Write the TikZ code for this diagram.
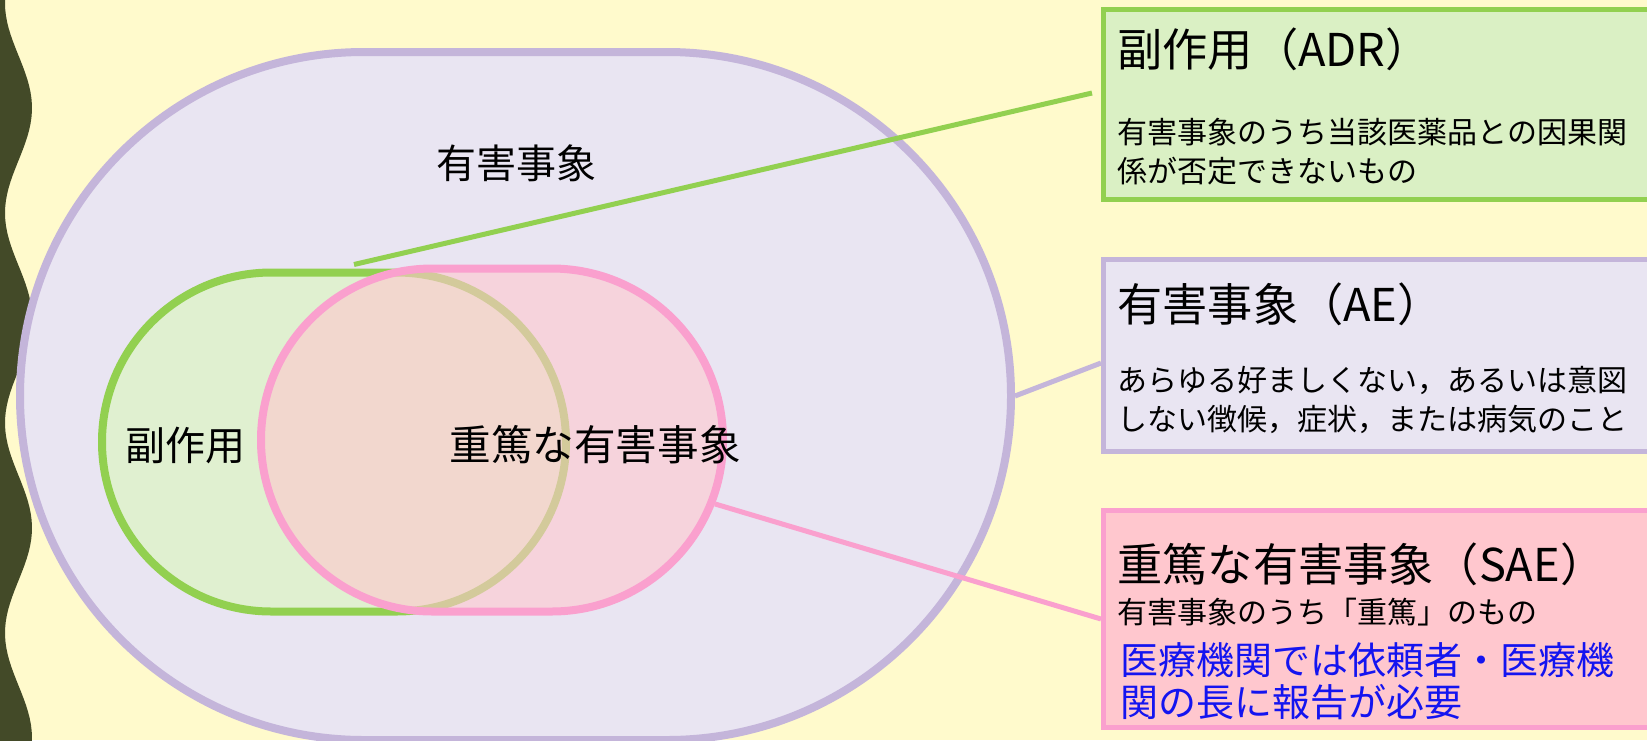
\documentclass[tikz,border=0pt]{standalone}
\usepackage{fontspec}
\setmainfont{Noto Sans CJK JP}
\usetikzlibrary{shapes.misc}
\definecolor{bgcol}{RGB}{255,250,204}
\definecolor{wavecol}{RGB}{67,74,40}
\definecolor{aecol}{RGB}{196,181,218}
\definecolor{aefillcol}{RGB}{233,229,242}
\definecolor{adrcol}{RGB}{146,208,80}
\definecolor{adrfillcol}{RGB}{224,240,208}
\definecolor{adrboxcol}{RGB}{218,240,196}
\definecolor{saecol}{RGB}{250,160,206}
\definecolor{saefillcol}{RGB}{255,199,206}
\definecolor{notecol}{RGB}{20,20,240}
\tikzset{
  region/.style={rounded rectangle, inner sep=0pt, line width=4pt},
  infobox/.style={rectangle, anchor=north west, inner sep=0pt, line width=2.5pt, minimum width=320pt},
  lead/.style={line width=2.5pt},
  biglabel/.style={inner sep=0pt, font=\fontsize{20pt}{24pt}\selectfont},
  title/.style={anchor=west, inner sep=0pt, font=\fontsize{22.6pt}{27pt}\selectfont},
  desc/.style={anchor=west, inner sep=0pt, align=left, font=\fontsize{15pt}{19.5pt}\selectfont},
}
\begin{document}
\begin{tikzpicture}[x=0.5pt,y=-0.5pt]
  \useasboundingbox (0,0) rectangle (1647,740);
  \clip (0,0) rectangle (1647,740);
  \fill[bgcol] (0,0) rectangle (1647,740);
  % wavy edge
  \fill[wavecol] (0,-10) -- plot[domain=-10:750,samples=120] ({18.5-13.5*cos(1.7143*(\x-3))},\x) -- (0,750) -- cycle;

  % sets
  \node[region, draw=aecol, fill=aefillcol, minimum width=495.5pt, minimum height=344pt] (ae) at (515.5,396) {};
  \node[region, draw=adrcol, fill=adrfillcol, minimum width=232pt, minimum height=169.5pt] (sidefx) at (334,442) {};
  \node[region, draw=saecol, fill=saefillcol, fill opacity=0.6, minimum width=231pt, minimum height=171.5pt] (serious) at (492,440) {};
  \node[biglabel] (aelabel) at (516,163) {有害事象};
  \node[biglabel] (sidefxlabel) at (185,445) {副作用};
  \node[biglabel, font=\fontsize{20.8pt}{24pt}\selectfont] (seriouslabel) at (595,445) {重篤な有害事象};

  % boxes
  \node[infobox, draw=adrcol, fill=adrboxcol, minimum height=95pt] (adrbox) at (1101,7) {};
  \node[infobox, draw=aecol, fill=aefillcol, minimum height=96pt] (aebox) at (1101,257) {};
  \node[infobox, draw=saecol, fill=saefillcol, minimum height=108.5pt] (saebox) at (1101,508) {};

  \node[title] (adrtitle) at (1117,49) {副作用（ADR）};
  \node[desc] (adrdesc) at (1117,151.5) {有害事象のうち当該医薬品との因果関\\係が否定できないもの};
  \node[title] (aetitle) at (1117,304) {有害事象（AE）};
  \node[desc] (aedesc) at (1117,400) {あらゆる好ましくない，あるいは意図\\しない徴候，症状，または病気のこと};
  \node[title] (saetitle) at (1117,564) {重篤な有害事象（SAE）};
  \node[desc] (saedesc) at (1117,612) {有害事象のうち「重篤」のもの};
  \node[desc, text=notecol, font=\fontsize{19pt}{21pt}\selectfont] (saenote) at (1120,681) {医療機関では依頼者・医療機\\関の長に報告が必要};

  % leaders
  \draw[lead, adrcol] ([xshift=10pt,yshift=2pt]sidefx.north) -- ([xshift=-4.5pt,yshift=5.75pt]adrbox.west);
  \draw[lead, aecol] (ae.east) -- ([yshift=-3.75pt]aebox.west);
  \draw[lead, saecol] (serious.-16) -- (saebox.west);
\end{tikzpicture}
\end{document}
